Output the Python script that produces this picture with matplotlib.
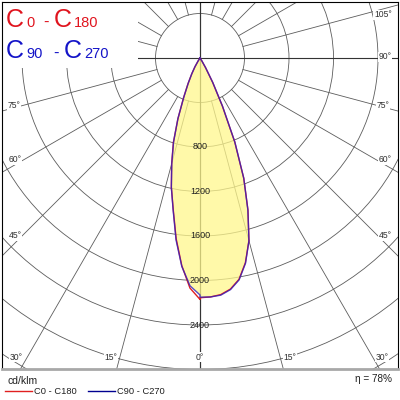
import numpy as np
import matplotlib
matplotlib.use("Agg")
import matplotlib.pyplot as plt
from matplotlib.patches import Circle, Rectangle
from matplotlib.lines import Line2D

plt.rcParams['font.family'] = ['Liberation Sans', 'DejaVu Sans']

# polar intensity data (cd/klm), gamma measured from nadir
gamma = np.array([0, 2.5, 5, 7.5, 10, 12.5, 15, 17.5, 20, 22.5, 25, 27.5, 30, 32.5, 35, 40])
c0_right = [2155, 2150, 2135, 2095, 2020, 1885, 1700, 1435, 1150, 815, 475, 245, 100, 30, 0, 0]
c0_left = [2170, 2070, 1875, 1640, 1385, 1190, 985, 795, 580, 385, 255, 160, 90, 30, 0, 0]
c90_right = [2150, 2150, 2140, 2100, 2025, 1890, 1700, 1430, 1150, 820, 480, 250, 100, 30, 0, 0]
c90_left = [2130, 2050, 1880, 1650, 1390, 1190, 980, 790, 580, 380, 250, 160, 90, 30, 0, 0]

rings = [400, 800, 1200, 1600, 2000, 2400, 2800, 3200, 3600]
ring_labels = [800, 1200, 1600, 2000, 2400]
spokes = np.arange(0, 181, 15)
eta = 78

# angle label placement (pixels in the 400x400 picture)
right_labels = {0: (200, 357), 15: (290, 357), 30: (382, 357), 45: (385, 236),
                60: (385, 160), 75: (383, 106), 90: (385, 57), 105: (383, 15)}
left_labels = {15: (111, 357), 30: (16, 357), 45: (15, 236), 60: (15, 160), 75: (14, 106)}

K = 0.11125          # pixels per cd
CX, CY = 200, 58     # centre of the diagram in pixels


def px2cd(px, py):
    return (px - CX) / K, (CY - py) / K


def curve(left, right):
    g = np.radians(gamma)
    left = np.asarray(left, float)
    right = np.asarray(right, float)
    x = np.concatenate([-left[::-1] * np.sin(g[::-1]), right * np.sin(g)])
    y = np.concatenate([-left[::-1] * np.cos(g[::-1]), -right * np.cos(g)])
    return x, y


fig = plt.figure(figsize=(4, 4), dpi=100)
ax = fig.add_axes([2 / 400, 31 / 400, 396 / 400, 367 / 400])
x0, y1 = px2cd(2, 2)
x1, y0 = px2cd(398, 369)
ax.set_xlim(x0, x1)
ax.set_ylim(y0, y1)
ax.set_xticks([])
ax.set_yticks([])
for side in ['left', 'right', 'top']:
    ax.spines[side].set_color('black')
    ax.spines[side].set_linewidth(0.8)
ax.spines['bottom'].set_color('#a8a8a8')
ax.spines['bottom'].set_linewidth(2)

grid_col = '#5c5c5c'
for r in rings:
    ax.add_patch(Circle((0, 0), r, fill=False, ec=grid_col, lw=0.6, zorder=1))

far = 6000
for g in spokes:
    a = np.radians(g)
    for s in (1, -1):
        if g in (0, 90, 180):
            ax.plot([0, s * far * np.sin(a)], [0, -far * np.cos(a)], color='#333333', lw=0.8, zorder=1)
        else:
            ax.plot([s * 400 * np.sin(a), s * far * np.sin(a)],
                    [-400 * np.cos(a), -far * np.cos(a)], color=grid_col, lw=0.6, zorder=1)

# white area behind the title
ax.add_patch(Rectangle((0, (369 - 68) / 367), (138 - 2) / 396, 1, transform=ax.transAxes,
                       facecolor='white', edgecolor='none', zorder=2))

xb, yb = curve(c90_left, c90_right)
ax.fill(xb, yb, color='#fff78c', alpha=0.75, lw=0, zorder=3)
xr, yr = curve(c0_left, c0_right)
ax.plot(xr, yr, color='#e02020', lw=1.0, zorder=4)
ax.plot(xb, yb, color='#3020c0', lw=1.0, alpha=0.8, zorder=4)

for v in ring_labels:
    ax.text(0, -v, str(v), ha='center', va='center', fontsize=6.5, color='#202020', zorder=5)

for lab, pos in list(right_labels.items()) + list(left_labels.items()):
    x, y = px2cd(*pos)
    ax.text(x, y, f"{lab}°", ha='center', va='center', fontsize=6.2, color='#303030', zorder=5,
            bbox=dict(facecolor='white', edgecolor='none', pad=0.6))

# title pieces
red, blue = '#e0141e', '#1414c8'
for txt, px, size, col, py in [("C", 6, 18, red, 27), ("0", 26, 10.5, red, 27), ("-", 43, 12, red, 27),
                               ("C", 54, 18, red, 27), ("180", 74, 10.5, red, 27),
                               ("C", 6, 18, blue, 58), ("90", 26, 10.5, blue, 58), ("-", 53, 12, blue, 58),
                               ("C", 64, 18, blue, 58), ("270", 84, 10.5, blue, 58)]:
    fig.text(px / 400, 1 - py / 400, txt, fontsize=size, color=col, ha='left', va='baseline')

# bottom legend
fig.text(8 / 400, 1 - 384 / 400, "cd/klm", fontsize=7.5, color='#202020', va='baseline')
fig.add_artist(Line2D([5 / 400, 32 / 400], [1 - 391 / 400] * 2, color='#e02020', lw=1))
fig.text(34 / 400, 1 - 391 / 400, "C0 - C180", fontsize=6.7, color='#202020', va='center')
fig.add_artist(Line2D([88 / 400, 115 / 400], [1 - 391 / 400] * 2, color='#000090', lw=1))
fig.text(117 / 400, 1 - 391 / 400, "C90 - C270", fontsize=6.7, color='#202020', va='center')
fig.text(392 / 400, 1 - 379 / 400, f"η = {eta}%", fontsize=7.2, color='#202020', ha='right', va='center')

fig.savefig("out.png", dpi=100)
